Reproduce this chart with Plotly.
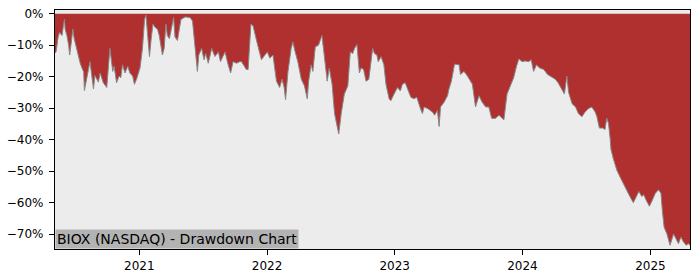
import plotly.graph_objects as go

dates = [
    "2020-05-05", "2020-05-08", "2020-05-14", "2020-05-18", "2020-05-22", "2020-05-25", "2020-05-29",
    "2020-06-01", "2020-06-03", "2020-06-08", "2020-06-13", "2020-06-16", "2020-06-19", "2020-06-22",
    "2020-06-25", "2020-06-29", "2020-07-03", "2020-07-09", "2020-07-16", "2020-07-21", "2020-07-26",
    "2020-07-28", "2020-08-13", "2020-08-23", "2020-08-27", "2020-09-06", "2020-09-11", "2020-09-20",
    "2020-09-30", "2020-10-09", "2020-10-17", "2020-10-21", "2020-10-28", "2020-11-04", "2020-11-09",
    "2020-11-14", "2020-11-21", "2020-11-29", "2020-12-05", "2020-12-13", "2020-12-18", "2020-12-24",
    "2021-01-03", "2021-01-10", "2021-01-16", "2021-01-20", "2021-01-25", "2021-01-30", "2021-02-04",
    "2021-02-09", "2021-02-15", "2021-02-22", "2021-02-27", "2021-03-04", "2021-03-08", "2021-03-13",
    "2021-03-18", "2021-03-22", "2021-03-28", "2021-04-09", "2021-04-13", "2021-04-20", "2021-04-23",
    "2021-04-30", "2021-05-12", "2021-05-26", "2021-06-02", "2021-06-07", "2021-06-16", "2021-06-20",
    "2021-06-28", "2021-07-05", "2021-07-10", "2021-07-17", "2021-07-27", "2021-08-05", "2021-08-15",
    "2021-08-21", "2021-08-29", "2021-09-03", "2021-09-12", "2021-09-19", "2021-09-26", "2021-10-06",
    "2021-10-15", "2021-10-20", "2021-11-03", "2021-11-08", "2021-11-16", "2021-11-22", "2021-12-02",
    "2021-12-16", "2021-12-26",
    "2022-01-02", "2022-01-09", "2022-01-18", "2022-01-28", "2022-02-06", "2022-02-13", "2022-02-19",
    "2022-02-23", "2022-03-02", "2022-03-11", "2022-03-16", "2022-03-21", "2022-03-30", "2022-04-09",
    "2022-04-18", "2022-04-26", "2022-04-30", "2022-05-07", "2022-05-12", "2022-05-19", "2022-05-28",
    "2022-06-07", "2022-06-14", "2022-06-22", "2022-06-28", "2022-07-06", "2022-07-13", "2022-07-20",
    "2022-07-25", "2022-08-01", "2022-08-10", "2022-08-20", "2022-08-27", "2022-09-03", "2022-09-08",
    "2022-09-15", "2022-09-22", "2022-09-27", "2022-10-04", "2022-10-11", "2022-10-19", "2022-10-23",
    "2022-10-30", "2022-11-04", "2022-11-11", "2022-11-15", "2022-11-23", "2022-12-01", "2022-12-07",
    "2022-12-16", "2022-12-21", "2022-12-30",
    "2023-01-09", "2023-01-17", "2023-01-23", "2023-01-31", "2023-02-07", "2023-02-16", "2023-02-25",
    "2023-03-05", "2023-03-14", "2023-03-21", "2023-03-26", "2023-04-05", "2023-04-19", "2023-04-25",
    "2023-05-03", "2023-05-08", "2023-05-12", "2023-05-22", "2023-06-01", "2023-06-05", "2023-06-12",
    "2023-06-21", "2023-07-04", "2023-07-08", "2023-07-18", "2023-07-28", "2023-08-11", "2023-08-20",
    "2023-08-30", "2023-09-08", "2023-09-18", "2023-09-27", "2023-10-05", "2023-10-16", "2023-10-26",
    "2023-11-04", "2023-11-09", "2023-11-18", "2023-11-28", "2023-12-07", "2023-12-15", "2023-12-22",
    "2023-12-31",
    "2024-01-09", "2024-01-19", "2024-01-26", "2024-02-02", "2024-02-10", "2024-02-19", "2024-03-02",
    "2024-03-13", "2024-03-26", "2024-04-04", "2024-04-12", "2024-04-23", "2024-04-30", "2024-05-07",
    "2024-05-12", "2024-05-22", "2024-06-01", "2024-06-09", "2024-06-19", "2024-06-28", "2024-07-08",
    "2024-07-17", "2024-07-27", "2024-08-01", "2024-08-08", "2024-08-18", "2024-08-24", "2024-08-29",
    "2024-09-03", "2024-09-08", "2024-09-10", "2024-09-17", "2024-09-27", "2024-10-06", "2024-10-15",
    "2024-10-25", "2024-11-03", "2024-11-13", "2024-11-22", "2024-11-29", "2024-12-07", "2024-12-13",
    "2024-12-21", "2024-12-29",
    "2025-01-05", "2025-01-15", "2025-01-24", "2025-01-31", "2025-02-04", "2025-02-09", "2025-02-17",
    "2025-02-26", "2025-03-08", "2025-03-15", "2025-03-22", "2025-03-29", "2025-04-05", "2025-04-13",
    "2025-04-19", "2025-04-24",
]

drawdown_pct = [
    -12.5, -12.1, -7.4, -5.9, -6.5, -6.9, -3.8,
    -1.8, -4.9, -6.9, -10.0, -13.1, -10.5, -6.4,
    -4.9, -8.0, -10.0, -13.1, -15.7, -17.2, -18.5,
    -24.4, -15.2, -23.9, -19.6, -21.7, -18.8, -21.9,
    -23.4, -11.0, -18.3, -16.7, -21.9, -19.8, -20.3,
    -16.2, -18.8, -16.7, -18.8, -19.8, -22.4, -20.8,
    -17.2, -11.0, -1.8, -0.5, -5.9, -13.6, -7.9,
    -3.3, -4.3, -4.9, -6.9, -10.0, -13.1, -11.0,
    -3.3, -6.9, -7.9, -1.2, -7.4, -8.5, -6.4,
    -1.8, -1.0, -1.2, -2.3, -7.9, -18.3, -13.1,
    -11.0, -14.6, -12.6, -15.7, -11.0, -13.6, -12.1,
    -15.2, -13.1, -12.1, -16.2, -18.8, -15.2, -15.7,
    -15.2, -15.2, -17.7, -17.7, -3.3, -3.8, -8.5,
    -14.6, -13.1,
    -12.1, -14.1, -13.1, -21.4, -23.4, -20.8, -23.4,
    -27.3, -18.3, -11.0, -9.0, -11.5, -15.2, -20.8,
    -22.9, -27.0, -21.4, -16.2, -18.3, -10.5, -10.0,
    -6.9, -13.6, -21.4, -17.2, -22.4, -31.7, -35.8,
    -38.2, -31.7, -25.5, -22.9, -12.1, -12.6, -11.0,
    -9.8, -18.8, -17.2, -17.7, -21.4, -20.8, -17.2,
    -11.0, -12.6, -13.1, -15.2, -13.6, -16.2, -22.4,
    -27.0, -27.6, -25.5,
    -23.4, -24.5, -22.4, -21.9, -23.9, -26.5, -27.0,
    -26.5, -29.6, -31.7, -29.6, -30.1, -31.2, -32.2,
    -30.7, -35.8, -29.6, -28.1, -26.0, -23.9, -21.4,
    -16.0, -16.2, -19.3, -18.3, -19.8, -22.4, -29.6,
    -26.0, -28.1, -29.6, -29.6, -33.2, -33.2, -32.2,
    -33.2, -33.7, -25.5, -22.9, -20.3, -16.7, -14.3,
    -15.2,
    -15.0, -15.2, -14.6, -18.3, -16.2, -17.2, -17.7,
    -19.3, -20.3, -20.8, -21.9, -23.9, -25.5, -19.8,
    -25.0, -28.6, -29.6, -31.7, -32.7, -31.2, -30.1,
    -29.6, -31.2, -32.7, -36.3, -36.3, -36.8, -33.2,
    -34.8, -39.9, -43.0, -46.1, -49.7, -51.8, -53.9,
    -55.9, -58.0, -60.0, -58.0, -56.4, -58.0, -57.5,
    -59.5, -61.1,
    -59.5, -57.0, -55.9, -57.0, -62.6, -67.8, -69.9,
    -73.5, -69.9, -71.4, -73.0, -70.9, -72.4, -73.5,
    -73.0, -73.5,
]

y_tick_values = [0, -10, -20, -30, -40, -50, -60, -70]
y_tick_labels = ["0%", "\u221210%", "\u221220%", "\u221230%", "\u221240%", "\u221250%", "\u221260%", "\u221270%"]
x_tick_values = ["2021-01-01", "2022-01-01", "2023-01-01", "2024-01-01", "2025-01-01"]
x_tick_labels = ["2021", "2022", "2023", "2024", "2025"]
title_text = "BIOX (NASDAQ) - Drawdown Chart"

fig = go.Figure()
fig.add_trace(go.Scatter(
    x=dates, y=drawdown_pct, mode="lines", fill="tozeroy",
    fillcolor="#b03030", line=dict(color="#888888", width=1),
    hoverinfo="skip", showlegend=False,
))

fig.update_layout(
    width=700, height=280,
    margin=dict(l=53, r=10, t=7, b=28),
    paper_bgcolor="white", plot_bgcolor="#ececec",
    font=dict(family="DejaVu Sans", size=12, color="black"),
    showlegend=False,
)
fig.update_xaxes(
    range=[dates[0], dates[-1]], tickvals=x_tick_values, ticktext=x_tick_labels,
    showgrid=False, zeroline=False, showline=True, linecolor="black", linewidth=1.3,
    mirror=True, ticks="outside", ticklen=5, tickwidth=1, tickcolor="black",
)
fig.update_yaxes(
    range=[-74.7, 1.2], tickvals=y_tick_values, ticktext=y_tick_labels,
    showgrid=False, zeroline=False, showline=True, linecolor="black", linewidth=1.3,
    mirror=True, ticks="outside", ticklen=5, tickwidth=1, tickcolor="black",
    ticklabelstandoff=3,
)
fig.add_annotation(
    text=title_text, xref="paper", yref="paper", x=0, y=0,
    xanchor="left", yanchor="bottom", showarrow=False,
    bgcolor="#b3b3b3", borderpad=1, font=dict(size=14, color="black"),
)

fig.write_html("out.html")
